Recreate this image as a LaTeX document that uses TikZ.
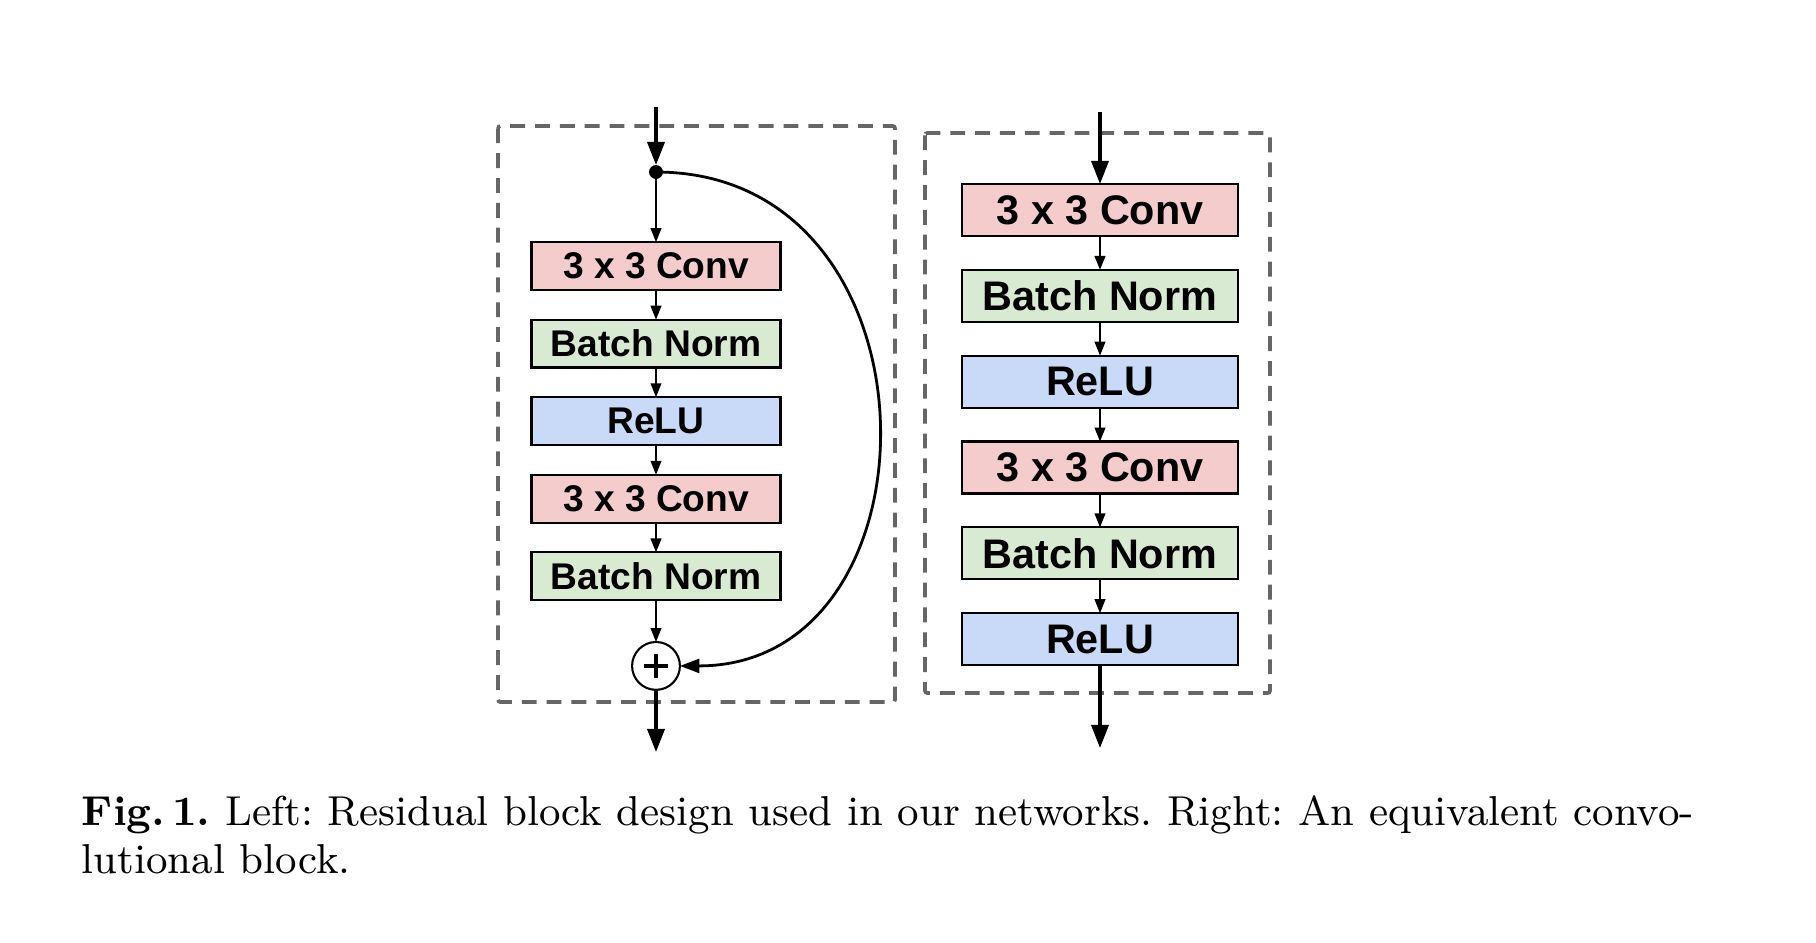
\documentclass[tikz,border=0pt]{standalone}
\usepackage{fontspec}
\setsansfont{Liberation Sans}
\usepackage{tikz}
\usetikzlibrary{arrows.meta, positioning}
\usepackage{xcolor}
\definecolor{convred}{HTML}{F4CCCC}
\definecolor{bngreen}{HTML}{D9EAD3}
\definecolor{relublue}{HTML}{C9DAF8}
\definecolor{framegray}{HTML}{666666}
\tikzset{
    lblock/.style={rectangle, draw, line width=0.45pt, outer sep=0pt, minimum width=53.6pt, minimum height=10.3pt, inner sep=0pt, font=\sffamily\bfseries\fontsize{8}{9}\selectfont},
    rblock/.style={rectangle, draw, line width=0.45pt, outer sep=0pt, minimum width=59.4pt, minimum height=11.2pt, inner sep=0pt, font=\sffamily\bfseries\fontsize{8.9}{10}\selectfont},
    conv/.style={fill=convred},
    bn/.style={fill=bngreen},
    relu/.style={fill=relublue},
    arrow/.style={-{Triangle[length=3pt, width=2.3pt]}, line width=0.4pt},
    thickarrow/.style={-{Triangle[length=5pt, width=3.7pt]}, line width=0.75pt},
    skiparrow/.style={-{Triangle[length=4.2pt, width=3pt]}, line width=0.6pt},
    frame/.style={draw=framegray, line width=0.8pt, dash pattern=on 3.2pt off 2.15pt, rounded corners=0.5pt},
    dot/.style={circle, fill, inner sep=0pt, outer sep=0pt, minimum size=3pt},
    sum/.style={circle, draw, fill=white, line width=0.45pt, outer sep=0pt, minimum size=10.3pt, inner sep=0pt,
        path picture={\draw[line width=0.9pt]
            ([xshift=-2.5pt]path picture bounding box.center) -- ([xshift=2.5pt]path picture bounding box.center)
            ([yshift=-2.5pt]path picture bounding box.center) -- ([yshift=2.5pt]path picture bounding box.center);}},
    caption/.style={anchor=base west, inner sep=0pt, font=\fontsize{9}{10.3}\selectfont}
}
\begin{document}
\begin{tikzpicture}[x=0.2153pt, y=-0.2153pt]
    \useasboundingbox (0,0) rectangle (1816,942);

    % Dashed frames
    \draw[frame] (498,126) rectangle (895,702);
    \draw[frame] (925,133) rectangle (1270,693);

    % Left: residual block
    \coordinate (lin) at (656,107);
    \node[dot] (split) at (656,172) {};
    \node[lblock, conv] (l1) at (656,266) {3 x 3 Conv};
    \begin{scope}[node distance=6.4pt]
        \node[lblock, bn, below=of l1] (l2) {Batch Norm};
        \node[lblock, relu, below=of l2] (l3) {ReLU};
        \node[lblock, conv, below=of l3] (l4) {3 x 3 Conv};
        \node[lblock, bn, below=of l4] (l5) {Batch Norm};
    \end{scope}
    \node[sum, below=9pt of l5] (sum) {};
    \coordinate (lout) at (656,752);

    \draw[thickarrow] (lin) -- (split);
    \draw[arrow] (split) -- (l1);
    \draw[arrow] (l1) -- (l2);
    \draw[arrow] (l2) -- (l3);
    \draw[arrow] (l3) -- (l4);
    \draw[arrow] (l4) -- (l5);
    \draw[arrow] (l5) -- (sum);
    \draw[thickarrow] (sum) -- (lout);
    \draw[skiparrow] (split.center) .. controls +(292,0) and +(268,0) .. (sum.east);

    % Right: plain convolutional block
    \coordinate (rin) at (1100,112);
    \node[rblock, conv] (r1) at (1100,210) {3 x 3 Conv};
    \begin{scope}[node distance=7.28pt]
        \node[rblock, bn, below=of r1] (r2) {Batch Norm};
        \node[rblock, relu, below=of r2] (r3) {ReLU};
        \node[rblock, conv, below=of r3] (r4) {3 x 3 Conv};
        \node[rblock, bn, below=of r4] (r5) {Batch Norm};
        \node[rblock, relu, below=of r5] (r6) {ReLU};
    \end{scope}
    \coordinate (rout) at (1100,748);

    \draw[thickarrow] (rin) -- (r1);
    \draw[arrow] (r1) -- (r2);
    \draw[arrow] (r2) -- (r3);
    \draw[arrow] (r3) -- (r4);
    \draw[arrow] (r4) -- (r5);
    \draw[arrow] (r5) -- (r6);
    \draw[thickarrow] (r6) -- (rout);

    % Caption
    \node[caption] (cap1) at (81,825) {\frenchspacing\makebox[347.1pt][s]{\textbf{Fig.\,1.} Left: Residual block design used in our networks. Right: An equivalent convo-}};
    \node[caption] (cap2) at (81,873) {lutional block.};
\end{tikzpicture}
\end{document}
